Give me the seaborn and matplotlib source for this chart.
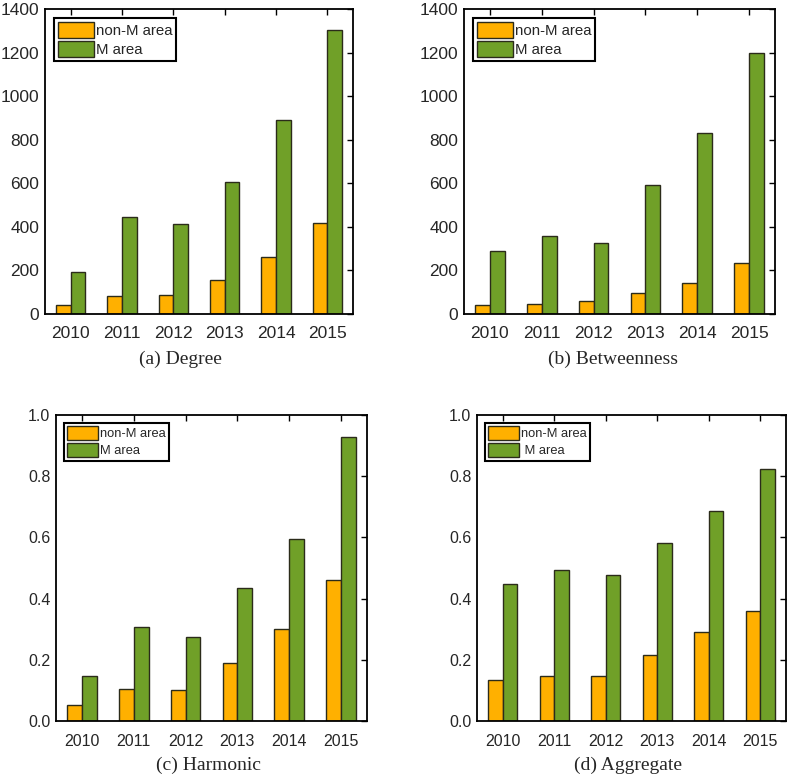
import matplotlib
matplotlib.use("Agg")
import matplotlib.pyplot as plt
import seaborn as sns
import pandas as pd

years = ["2010", "2011", "2012", "2013", "2014", "2015"]

degree_nonm = [41, 82, 87, 157, 261, 420]
degree_m = [194, 444, 415, 608, 889, 1302]
betw_nonm = [40, 47, 60, 95, 144, 232]
betw_m = [290, 356, 324, 591, 831, 1198]
harm_nonm = [0.053, 0.106, 0.100, 0.190, 0.301, 0.462]
harm_m = [0.146, 0.306, 0.273, 0.435, 0.596, 0.929]
aggr_nonm = [0.133, 0.146, 0.148, 0.217, 0.292, 0.358]
aggr_m = [0.447, 0.495, 0.476, 0.583, 0.685, 0.825]

captions = ["(a) Degree", "(b) Betweenness", "(c) Harmonic", "(d) Aggregate"]

orange = "#FFB000"
green = "#70A028"

sns.set_style("white")
plt.rcParams['font.family'] = ['Liberation Sans', 'DejaVu Sans']

W, H = 788, 778
fig = plt.figure(figsize=(W / 100, H / 100), dpi=100)

# axes boxes in pixels: left, top, right, bottom
boxes = [(45, 9, 353, 314), (464, 9, 775, 314),
         (56, 415, 367, 721), (477, 415, 786, 721)]
panels = [
    (degree_nonm, degree_m, "M area", 1400, 200, 12.5, 10.8, "{:.0f}"),
    (betw_nonm, betw_m, "M area", 1400, 200, 12.5, 10.8, "{:.0f}"),
    (harm_nonm, harm_m, "M area", 1.0, 0.2, 11.5, 9.3, "{:.1f}"),
    (aggr_nonm, aggr_m, " M area", 1.0, 0.2, 11.5, 9.3, "{:.1f}"),
]
cap_pos = [(180, 359), (613, 359), (208, 765), (628, 765)]

for i, (nonm, m, mlab, ymax, step, fs, lfs, fmt) in enumerate(panels):
    l, t, r, b = boxes[i]
    ax = fig.add_axes([l / W, 1 - b / H, (r - l) / W, (b - t) / H])
    rows = []
    for y, v in zip(years, nonm):
        rows.append({"year": y, "value": v, "area": "non-M area"})
    for y, v in zip(years, m):
        rows.append({"year": y, "value": v, "area": mlab})
    df = pd.DataFrame(rows)
    sns.barplot(data=df, x="year", y="value", hue="area",
                palette=[orange, green], saturation=1, width=0.57,
                edgecolor="#2b2b1a", linewidth=1.0, ax=ax)
    ax.set_xlim(-0.5, 5.5)
    ax.set_ylim(0, ymax)
    ticks = [k * step for k in range(int(round(ymax / step)) + 1)]
    ax.set_yticks(ticks)
    ax.set_yticklabels([fmt.format(v) for v in ticks])
    ax.set_xlabel("")
    ax.set_ylabel("")
    ax.tick_params(direction="in", top=True, right=True, length=4,
                   width=1, labelsize=fs, color="black")
    ax.tick_params(axis="x", pad=9)
    ax.tick_params(axis="y", pad=4)
    for s in ax.spines.values():
        s.set_color("black")
        s.set_linewidth(1.3)
    leg = ax.legend(loc="upper left", fontsize=lfs, frameon=True,
                    fancybox=False, framealpha=1, edgecolor="black",
                    handlelength=2.4, handleheight=1.3, handletextpad=0.15,
                    labelspacing=0.2, borderpad=0.25, borderaxespad=0.6)
    leg.get_frame().set_linewidth(1.5)
    cx, cy = cap_pos[i]
    fig.text(cx / W, 1 - cy / H, captions[i], ha="center", va="center",
             fontsize=14, family=["Liberation Serif", "DejaVu Serif"])

fig.savefig("out.png", dpi=100)
